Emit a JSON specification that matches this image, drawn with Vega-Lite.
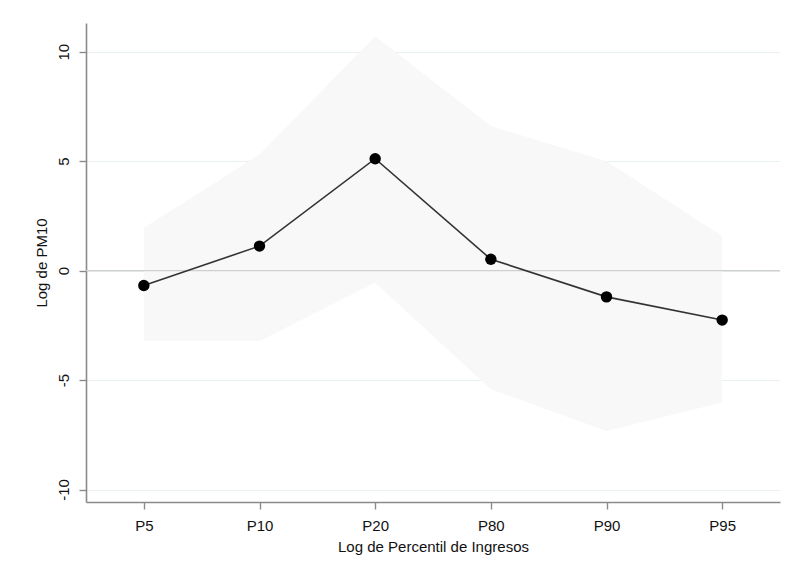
{
  "$schema": "https://vega.github.io/schema/vega-lite/v6.json",
  "width": 694,
  "height": 479,
  "autosize": {"type": "none"},
  "padding": {"left": 86, "top": 23, "right": 8, "bottom": 78},
  "background": "white",
  "config": {
    "view": {"stroke": null},
    "font": "Liberation Sans"
  },
  "datasets": {
    "est": [
      {"pct": "P5", "b": -0.68, "lo": -3.22, "hi": 1.96},
      {"pct": "P10", "b": 1.12, "lo": -3.22, "hi": 5.3},
      {"pct": "P20", "b": 5.11, "lo": -0.55, "hi": 10.71},
      {"pct": "P80", "b": 0.52, "lo": -5.42, "hi": 6.6},
      {"pct": "P90", "b": -1.2, "lo": -7.33, "hi": 5.0},
      {"pct": "P95", "b": -2.26, "lo": -6.03, "hi": 1.58}
    ],
    "zero": [{"z": 0}]
  },
  "layer": [
    {
      "data": {"name": "est"},
      "mark": {"type": "area", "color": "#f8f8f8", "opacity": 1},
      "encoding": {
        "x": {
          "field": "pct", "type": "nominal", "sort": null,
          "scale": {"type": "point", "padding": 0.5},
          "axis": {
            "title": "Log de Percentil de Ingresos",
            "labelAngle": 0,
            "labelFontSize": 15,
            "labelColor": "#111111",
            "labelPadding": 9,
            "titleFontSize": 15,
            "titleFontWeight": "normal",
            "titleColor": "#111111",
            "titlePadding": 6,
            "domainColor": "#8a8a8a",
            "domainWidth": 1.6,
            "tickColor": "#8a8a8a",
            "tickWidth": 1.4,
            "tickSize": 7,
            "grid": false
          }
        },
        "y": {
          "field": "hi", "type": "quantitative",
          "scale": {"domain": [-10.57, 11.31], "nice": false, "zero": false},
          "axis": {
            "title": "Log de PM10",
            "values": [-10, -5, 0, 5, 10],
            "labelExpr": "datum.value < 0 ? '-' + abs(datum.value) : '' + datum.value",
            "labelAngle": 270,
            "labelAlign": "center",
            "labelBaseline": "bottom",
            "labelPadding": 8,
            "labelFontSize": 15,
            "labelColor": "#111111",
            "titleFontSize": 15,
            "titleFontWeight": "normal",
            "titleColor": "#111111",
            "titlePadding": 7,
            "domainColor": "#8a8a8a",
            "domainWidth": 1.6,
            "tickColor": "#8a8a8a",
            "tickWidth": 1.4,
            "tickSize": 7,
            "grid": true,
            "gridColor": "#e8f0f0",
            "gridWidth": 1.2
          }
        },
        "y2": {"field": "lo"}
      }
    },
    {
      "data": {"name": "zero"},
      "mark": {"type": "rule", "color": "#cfcfcf", "strokeWidth": 1.2},
      "encoding": {
        "y": {"field": "z", "type": "quantitative"}
      }
    },
    {
      "data": {"name": "est"},
      "mark": {"type": "line", "color": "#333333", "strokeWidth": 1.6},
      "encoding": {
        "x": {"field": "pct", "type": "nominal", "sort": null},
        "y": {"field": "b", "type": "quantitative"}
      }
    },
    {
      "data": {"name": "est"},
      "mark": {"type": "point", "filled": true, "color": "#000000", "size": 130, "opacity": 1},
      "encoding": {
        "x": {"field": "pct", "type": "nominal", "sort": null},
        "y": {"field": "b", "type": "quantitative"}
      }
    }
  ]
}
